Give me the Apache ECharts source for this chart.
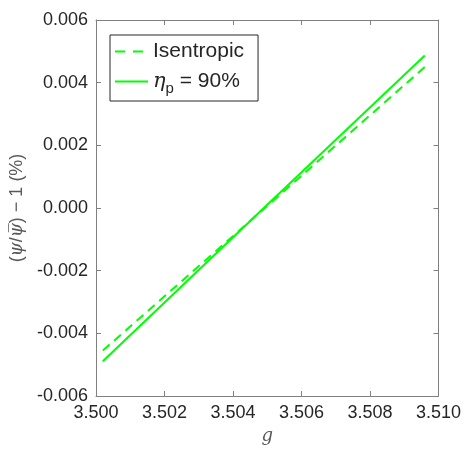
<!DOCTYPE html>
<html><head><meta charset="utf-8">
<script src="https://cdn.jsdelivr.net/npm/echarts@6/dist/echarts.min.js"></script>
<style>html,body{margin:0;padding:0;background:#fff}#c{width:464px;height:450px}</style>
</head><body><div id="c"></div>
<script>
const xTicks = [3.500, 3.502, 3.504, 3.506, 3.508, 3.510];
const yTicks = [-0.006, -0.004, -0.002, 0.000, 0.002, 0.004, 0.006];
const seriesNames = ['Isentropic', 'ηp = 90%'];
const gIsentropic = [3.5002, 3.5049, 3.5096];
const vIsentropic = [-0.00455, -0.00003, 0.00450];
const gPoly = [3.5002, 3.5049, 3.5096];
const vPoly = [-0.00489, 0.00000, 0.00487];

const chart = echarts.init(document.getElementById('c'));
const font = 'Liberation Sans, Arial, sans-serif';
const axisCol = '#808080';
function pairs(xs, ys){ return xs.map((x,i)=>[x, ys[i]]); }
chart.setOption({
  animation:false,
  grid:{left:96,right:23,top:20,bottom:47},
  legend:{
    left:110, top:35, orient:'vertical',
    data:[{name:seriesNames[0],lineStyle:{type:[10,8]}},{name:seriesNames[1]}],
    itemWidth:33, itemHeight:14, itemGap:9,
    padding:[6,14,5,4],
    itemStyle:{opacity:0},
    borderColor:'#262626', borderWidth:1, backgroundColor:'#fff',
    textStyle:{fontFamily:font,fontSize:21,color:'#262626',
      rich:{i:{fontFamily:'DejaVu Serif, serif',fontStyle:'italic',fontSize:21,color:'#262626'},
            sub:{fontFamily:font,fontSize:15,color:'#262626',padding:[14,0,0,0]},
            t:{fontFamily:font,fontSize:21,color:'#262626'}}},
    formatter:function(n){ return n==='ηp = 90%' ? '{i|η}{sub|p}{t| = 90%}' : n; }
  },
  xAxis:[{
    type:'value', min:3.5, max:3.51, interval:0.002,
    name:'g', nameLocation:'middle', nameGap:31,
    nameTextStyle:{fontFamily:'DejaVu Serif, serif',fontStyle:'italic',fontSize:18,color:'#595959'},
    axisLine:{onZero:false,lineStyle:{color:axisCol}},
    axisTick:{inside:true,length:5,lineStyle:{color:axisCol}},
    axisLabel:{fontFamily:font,fontSize:18,color:'#262626',margin:8,
      formatter:v=>v.toFixed(3), customValues:xTicks},
    splitLine:{show:false}
  },{
    type:'value', position:'top', min:3.5, max:3.51, interval:0.002,
    axisLine:{onZero:false,lineStyle:{color:axisCol}},
    axisTick:{inside:true,length:5,lineStyle:{color:axisCol}},
    axisLabel:{show:false}, splitLine:{show:false}
  }],
  yAxis:[{
    type:'value', min:-0.006, max:0.006, interval:0.002,
    name:'{p|(}{i|ψ}{p|/}{i|ψ\u0305}{p|) − 1 (%)}', nameLocation:'middle', nameGap:68,
    nameTextStyle:{fontFamily:font,fontSize:18,color:'#595959',
      rich:{p:{fontFamily:font,fontSize:18,color:'#595959'},
            i:{fontFamily:'DejaVu Serif, serif',fontStyle:'italic',fontSize:18,color:'#595959'}}},
    axisLine:{show:true,onZero:false,lineStyle:{color:axisCol}},
    axisTick:{show:true,inside:true,length:5,lineStyle:{color:axisCol}},
    axisLabel:{fontFamily:font,fontSize:18,color:'#262626',margin:8,
      formatter:v=>v.toFixed(3), customValues:yTicks},
    splitLine:{show:false}
  },{
    type:'value', position:'right', min:-0.006, max:0.006, interval:0.002,
    axisLine:{show:true,onZero:false,lineStyle:{color:axisCol}},
    axisTick:{show:true,inside:true,length:5,lineStyle:{color:axisCol}},
    axisLabel:{show:false}, splitLine:{show:false}
  }],
  series:[
    {name:seriesNames[0],type:'line',symbol:'none',data:pairs(gIsentropic,vIsentropic),
     lineStyle:{color:'#00ff00',width:2,type:[9,6]},itemStyle:{color:'#00ff00'}},
    {name:seriesNames[1],type:'line',symbol:'none',data:pairs(gPoly,vPoly),
     lineStyle:{color:'#00ff00',width:2,type:'solid'},itemStyle:{color:'#00ff00'}}
  ]
});
</script></body></html>
